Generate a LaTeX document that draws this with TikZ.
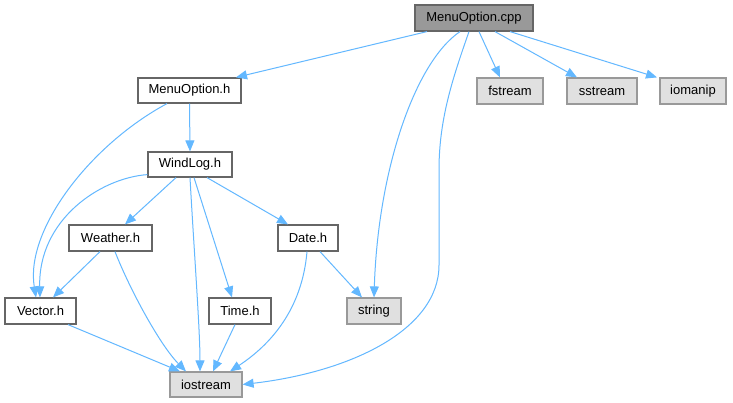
\documentclass[tikz,border=0pt]{standalone}
\usepackage{fontspec}
\setmainfont{Liberation Sans}
\usetikzlibrary{arrows.meta,calc}
\definecolor{edgecol}{HTML}{63B8FF}
\definecolor{mainfill}{HTML}{999999}
\definecolor{mainborder}{HTML}{666666}
\definecolor{sysfill}{HTML}{E0E0E0}
\definecolor{sysborder}{HTML}{999999}
\tikzset{
  box/.style={draw=mainborder, fill=white, line width=1.2pt, inner sep=0pt, minimum height=25pt,
    font=\fontsize{13}{14}\selectfont, text=black},
  mainbox/.style={box, fill=mainfill, minimum height=26pt},
  sysbox/.style={box, draw=sysborder, fill=sysfill, minimum height=26pt},
  dep/.style={draw=edgecol, line width=1pt, -{Triangle[length=11pt,width=9pt]}},
}
\begin{document}
\begin{tikzpicture}[x=1pt,y=-1pt]
\useasboundingbox (0,0) rectangle (733,403);
\fill[white] (0,0) rectangle (733,403);
% nodes
\node[mainbox, minimum width=118pt] (cpp) at (474,18) {MenuOption.cpp};
\node[sysbox, minimum width=66pt] (fstream) at (510,91) {fstream};
\node[sysbox, minimum width=70pt] (sstream) at (602,91) {sstream};
\node[sysbox, minimum width=66pt] (iomanip) at (693,91) {iomanip};
\node[box, minimum width=103pt] (moh) at (189.5,90.5) {MenuOption.h};
\node[box, minimum width=84pt] (windlog) at (190,164.5) {WindLog.h};
\node[box, minimum width=83pt, minimum height=26pt] (weather) at (110.5,238) {Weather.h};
\node[box, minimum width=60pt, minimum height=26pt] (date) at (308,238) {Date.h};
\node[box, minimum width=71pt, minimum height=26pt] (vector) at (40.5,311) {Vector.h};
\node[box, minimum width=62pt, minimum height=26pt] (time) at (240,311) {Time.h};
\node[sysbox, minimum width=54pt] (string) at (374,311) {string};
\node[sysbox, minimum width=72pt, minimum height=25pt] (iostream) at (206,384.5) {iostream};
% edges from MenuOption.cpp
\draw[dep] ($(cpp.south)+(-47,0)$) -- ($(moh.north)+(46.5,0)$);
\draw[dep] ($(cpp.south)+(-14,0)$) .. controls (415,62) and (378,170) .. (string.north);
\draw[dep] ($(cpp.south)+(-5,0)$) .. controls (452,80) and (439,120) .. (439,170) -- (439,265)
  .. controls (439,330) and (350,372) .. (iostream.east);
\draw[dep] ($(cpp.south)+(5,0)$) -- ($(fstream.north)+(-10,0)$);
\draw[dep] ($(cpp.south)+(21,0)$) -- ($(sstream.north)+(-25,0)$);
\draw[dep] ($(cpp.south)+(36,0)$) -- ($(iomanip.north)+(-36,0)$);
% MenuOption.h
\draw[dep] (moh.south) -- (windlog.north);
\draw[dep] ($(moh.south)+(-22.5,0)$) .. controls (90,145) and (25,230) .. ($(vector.north)+(-4.5,0)$);
% WindLog.h
\draw[dep] ($(windlog.south west)+(0,-3)$) .. controls (100,178) and (38,220) .. ($(vector.north)+(-0.5,0)$);
\draw[dep] ($(windlog.south)+(-14,0)$) -- ($(weather.north)+(14.5,0)$);
\draw[dep] (windlog.south) .. controls (194,250) and (200,330) .. ($(iostream.north)+(-6,0)$);
\draw[dep] ($(windlog.south)+(4,0)$) -- ($(time.north)+(-8,0)$);
\draw[dep] ($(windlog.south)+(17,0)$) -- ($(date.north)+(-20,0)$);
% Weather.h
\draw[dep] ($(weather.south)+(-10.5,0)$) -- ($(vector.north)+(12.5,0)$);
\draw[dep] ($(weather.south)+(4.5,0)$) .. controls (130,290) and (160,345) .. ($(iostream.north)+(-20,0)$);
% Date.h
\draw[dep] ($(date.south)+(12,0)$) -- ($(string.north)+(-12,0)$);
\draw[dep] ($(date.south)+(-1,0)$) .. controls (302,310) and (270,345) .. ($(iostream.north)+(24,0)$);
% Vector.h, Time.h
\draw[dep] ($(vector.south)+(27.5,0)$) -- ($(iostream.north)+(-26,0)$);
\draw[dep] ($(time.south)+(-5,0)$) -- ($(iostream.north)+(7,0)$);
\end{tikzpicture}
\end{document}
